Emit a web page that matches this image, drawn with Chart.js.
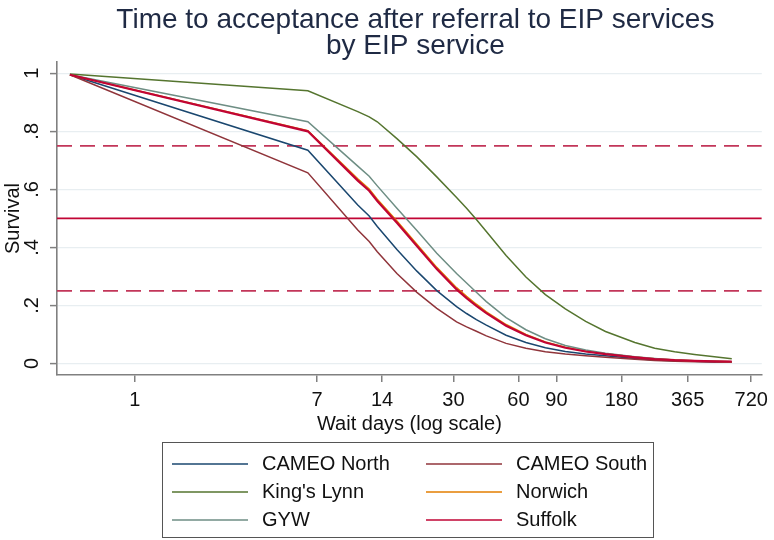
<!DOCTYPE html>
<html>
<head>
<meta charset="utf-8">
<script src="https://cdn.jsdelivr.net/npm/chart.js@4.4.1/dist/chart.umd.min.js"></script>
<style>
html, body { margin: 0; padding: 0; background: #fff; }
</style>
</head>
<body>
<canvas id="grafico" width="774" height="540"></canvas>
<script>
// wait days (x) and survival per service
const days = [0.5, 6.34, 10.8, 12.2, 13.3, 16.4, 20.3, 25.1, 31, 34.5, 38.3, 42.6, 52.6, 65, 80, 99, 123, 152, 208, 257, 318, 393, 486, 585];
const cameoNorth = [0.995, 0.735, 0.546, 0.508, 0.472, 0.393, 0.318, 0.251, 0.196, 0.172, 0.151, 0.132, 0.097, 0.072, 0.054, 0.041, 0.032, 0.026, 0.017, 0.012, 0.009, 0.007, 0.005, 0.004];
const cameoSouth = [0.995, 0.657, 0.460, 0.420, 0.385, 0.310, 0.245, 0.190, 0.143, 0.126, 0.111, 0.095, 0.069, 0.052, 0.040, 0.032, 0.026, 0.021, 0.014, 0.010, 0.007, 0.006, 0.005, 0.004];
const kingsLynn  = [0.998, 0.940, 0.868, 0.850, 0.833, 0.775, 0.712, 0.643, 0.572, 0.535, 0.496, 0.455, 0.372, 0.298, 0.237, 0.188, 0.145, 0.110, 0.072, 0.052, 0.040, 0.031, 0.023, 0.016];
const norwich    = [0.995, 0.802, 0.636, 0.601, 0.566, 0.491, 0.411, 0.331, 0.261, 0.231, 0.204, 0.178, 0.134, 0.100, 0.074, 0.056, 0.042, 0.033, 0.022, 0.016, 0.012, 0.009, 0.007, 0.006];
const gyw        = [0.995, 0.833, 0.680, 0.645, 0.612, 0.535, 0.458, 0.380, 0.310, 0.277, 0.245, 0.213, 0.158, 0.116, 0.085, 0.062, 0.046, 0.035, 0.023, 0.017, 0.012, 0.009, 0.007, 0.006];
const suffolk    = [0.995, 0.800, 0.630, 0.595, 0.560, 0.485, 0.405, 0.325, 0.255, 0.225, 0.198, 0.173, 0.130, 0.097, 0.072, 0.054, 0.041, 0.032, 0.021, 0.015, 0.011, 0.009, 0.007, 0.006];

const services = ["CAMEO North", "CAMEO South", "King's Lynn", "Norwich", "GYW", "Suffolk"];
const serviceValues = [cameoNorth, cameoSouth, kingsLynn, norwich, gyw, suffolk];
const serviceColors = ["#1a476f", "#90353b", "#55752f", "#e37e00", "#6e8e84", "#c10534"];

const xTickValues = [1, 7, 14, 30, 60, 90, 180, 365, 720];
const yTickValues = [0, 0.2, 0.4, 0.6, 0.8, 1];
const yTickLabels = ["0", ".2", ".4", ".6", ".8", "1"];
const refLevels = [0.25, 0.5, 0.75];

const xMin = 0.4357, xMax = 806;
const yMin = -0.04, yMax = 1.039;
const fontFam = "Arial, 'Liberation Sans', sans-serif";

const datasets = services.map(function (name, i) {
    return {
        label: name,
        data: days.map((d, j) => ({ x: d, y: serviceValues[i][j] })),
        borderColor: serviceColors[i],
        borderWidth: name === "Suffolk" ? 2.2 : 1.5,
        pointRadius: 0,
        tension: 0,
        order: 10 - i
    };
});

refLevels.forEach(function (lvl) {
    datasets.push({
        label: "ref " + lvl,
        data: [{ x: xMin, y: lvl }, { x: xMax, y: lvl }],
        borderColor: lvl === 0.5 ? "#c10534" : "#c23659",
        borderWidth: 1.6,
        borderDash: lvl === 0.5 ? [] : [15, 8],
        pointRadius: 0,
        order: 20
    });
});

// titulo e legenda desenhados a mao
const extras = {
    id: "extras",
    afterDraw(chart) {
        const ctx = chart.ctx;
        const area = chart.chartArea;
        ctx.save();
        ctx.fillStyle = "#1f2a44";
        ctx.font = "28px " + fontFam;
        ctx.textAlign = "center";
        ctx.textBaseline = "middle";
        const cx = (area.left + area.right) / 2 + 6;
        ctx.fillText("Time to acceptance after referral to EIP services", cx, 20);
        ctx.fillText("by EIP service", cx, 46);

        // legend box
        ctx.strokeStyle = "#555";
        ctx.lineWidth = 1;
        ctx.strokeRect(162.5, 442.5, 491, 95);
        ctx.font = "20px " + fontFam;
        ctx.textAlign = "left";
        ctx.fillStyle = "#111";
        const colX = [172, 426];
        const rowY = [464, 492, 520];
        services.forEach(function (name, i) {
            const col = i % 2, row = Math.floor(i / 2);
            const x = colX[col], y = rowY[row];
            ctx.strokeStyle = serviceColors[i];
            ctx.lineWidth = 1.5;
            ctx.beginPath();
            ctx.moveTo(x, y);
            ctx.lineTo(x + 76, y);
            ctx.stroke();
            ctx.fillText(name, x + 90, y);
        });
        ctx.restore();
    }
};

new Chart(document.getElementById("grafico").getContext("2d"), {
    type: "line",
    data: { datasets: datasets },
    plugins: [extras],
    options: {
        responsive: false,
        animation: false,
        layout: { padding: { top: 62, right: 6, left: 0, bottom: 103 } },
        plugins: { legend: { display: false }, tooltip: { enabled: false }, title: { display: false } },
        scales: {
            x: {
                type: "logarithmic",
                min: xMin,
                max: xMax,
                afterBuildTicks: function (scale) { scale.ticks = xTickValues.map(v => ({ value: v })); },
                afterFit: function (scale) { scale.height = 62; },
                ticks: {
                    autoSkip: false, maxRotation: 0, minRotation: 0, padding: 6,
                    color: "#111", font: { family: fontFam, size: 20 },
                    callback: function (v) { return String(v); }
                },
                grid: { drawOnChartArea: false, drawTicks: true, tickLength: 7, color: "#808080", lineWidth: 1.5 },
                border: { display: true, color: "#808080", width: 1.6 },
                title: { display: true, text: "Wait days (log scale)", color: "#111", font: { family: fontFam, size: 20 }, padding: { top: 0, bottom: 1 } }
            },
            y: {
                min: yMin,
                max: yMax,
                afterBuildTicks: function (scale) { scale.ticks = yTickValues.map(v => ({ value: v })); },
                afterFit: function (scale) { scale.width = 57; },
                ticks: {
                    minRotation: 90, maxRotation: 90, crossAlign: "center", padding: 9,
                    color: "#111", font: { family: fontFam, size: 20 },
                    callback: function (v, i) { return yTickLabels[i]; }
                },
                grid: { color: "#e8eef1", lineWidth: 1.2, drawTicks: true, tickLength: 7, tickColor: "#808080", tickWidth: 1.5 },
                border: { display: true, color: "#808080", width: 1.6 },
                title: { display: true, text: "Survival", color: "#111", font: { family: fontFam, size: 20 }, padding: { top: 1, bottom: 0 } }
            }
        }
    }
});
</script>
</body>
</html>
